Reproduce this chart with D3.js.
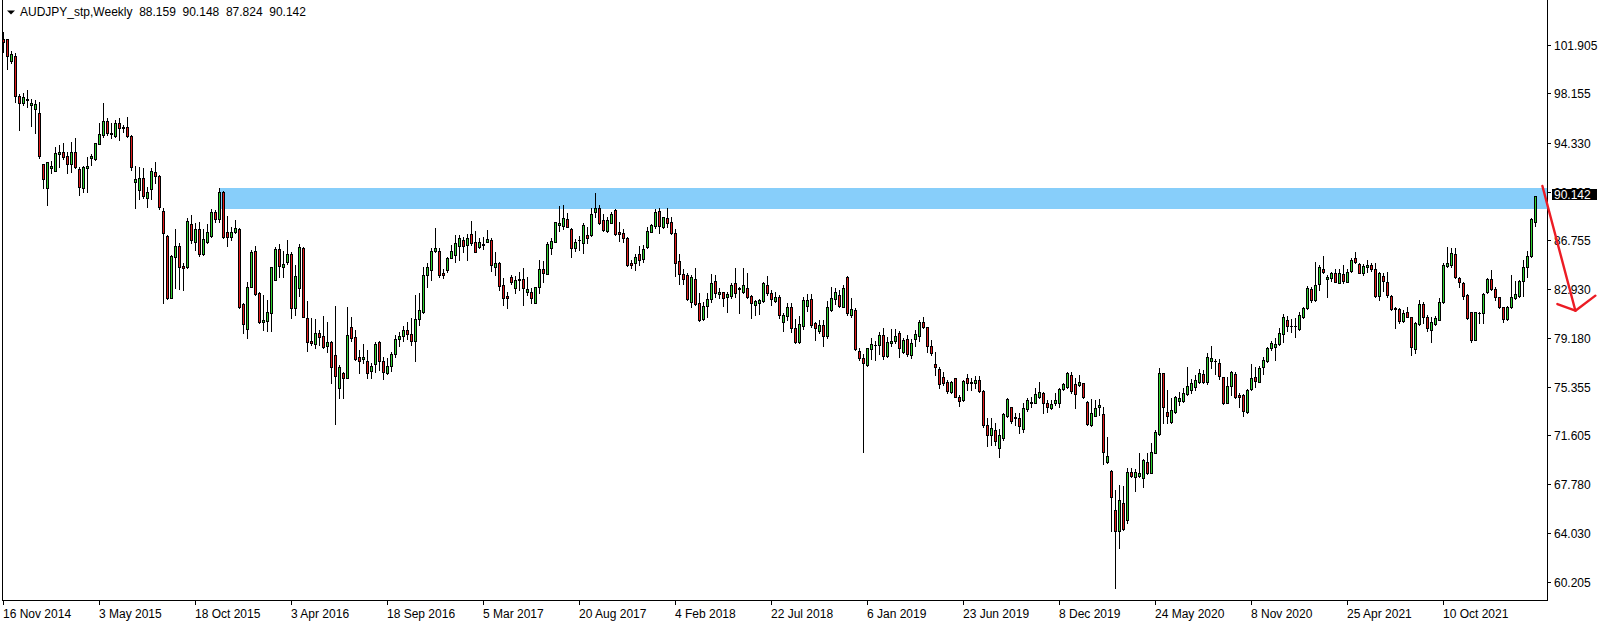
<!DOCTYPE html>
<html><head><meta charset="utf-8">
<script src="https://cdn.jsdelivr.net/npm/d3@7"></script>
<style>
html,body{margin:0;padding:0;background:#fff;}
svg{display:block;}
text{font-family:"Liberation Sans",Arial,sans-serif;font-size:12px;}
</style>
</head><body>
<svg id="chart" width="1604" height="625"></svg>
<script>
const symbolTitle = "AUDJPY_stp,Weekly";
const headerValues = ["88.159", "90.148", "87.824", "90.142"];

const opens = [
102.37,102.37,100.64,101.03,97.92,97.38,97.64,97.22,96.91,96.60,
92.67,90.78,92.33,92.15,93.44,93.57,93.31,92.64,93.57,92.28,
90.78,92.33,93.16,93.03,94.22,94.92,96.00,95.10,94.84,95.82,
95.56,95.56,94.84,91.24,90.65,91.55,90.00,90.70,92.02,91.73,
89.02,87.07,82.29,85.42,86.30,84.75,84.69,88.01,86.64,87.62,
85.65,86.64,87.07,88.91,88.37,90.47,87.36,86.97,87.41,87.59,
81.77,79.83,83.14,85.91,82.62,80.42,80.50,81.12,83.66,86.06,
84.69,85.03,85.68,81.51,83.01,86.12,80.68,78.92,78.69,79.52,
79.31,78.53,78.87,77.83,75.30,76.46,76.07,79.98,79.21,77.65,
77.51,77.39,76.62,77.11,78.82,77.37,76.41,76.98,77.90,79.05,
79.30,79.80,79.50,78.90,80.60,81.20,84.05,84.43,85.93,85.91,
84.18,84.43,85.39,85.60,86.32,86.76,86.38,87.23,86.58,86.19,
86.43,86.63,86.76,84.69,84.95,83.27,82.42,83.92,83.06,83.66,
83.74,82.75,82.70,81.90,83.09,84.49,84.10,86.17,86.58,87.93,
87.85,88.37,87.59,86.17,86.74,86.50,87.15,87.15,88.91,89.22,
88.32,87.49,88.11,89.09,87.36,87.28,86.89,84.95,84.95,85.68,
85.26,86.19,87.41,87.88,89.04,87.80,88.45,88.14,87.28,85.13,
84.12,84.05,81.92,83.73,81.85,80.60,81.66,82.16,83.58,82.57,
82.70,82.31,82.44,83.40,83.01,82.75,83.01,82.41,81.72,81.85,
82.05,83.27,82.62,82.05,82.31,80.37,80.89,81.54,79.91,78.87,
80.11,81.67,82.16,80.29,79.72,80.16,79.34,81.33,82.16,82.49,
81.59,83.92,80.94,81.33,78.15,77.58,77.06,78.27,78.61,78.61,
79.39,77.78,78.79,78.92,79.57,78.09,79.05,77.83,79.05,79.31,
80.37,79.98,78.53,77.14,76.72,76.10,75.76,74.99,76.02,74.55,
74.34,76.02,75.63,75.63,75.89,75.04,72.40,71.62,72.01,70.59,
71.36,73.10,73.77,72.92,72.92,72.06,73.61,74.08,74.13,74.60,
74.91,74.13,73.69,74.08,74.13,75.20,75.32,76.28,75.58,75.50,
75.63,74.21,72.40,73.12,73.82,73.25,69.50,68.83,65.80,64.19,
66.32,65.02,68.72,68.34,68.46,68.26,69.55,68.70,70.25,71.70,
76.41,73.38,72.66,73.43,74.29,74.29,74.78,75.09,75.38,75.76,
76.33,75.76,77.39,77.39,77.19,76.10,74.13,75.45,76.33,74.73,
74.73,73.38,75.17,76.10,75.76,76.88,77.37,78.40,78.48,78.66,
79.46,80.55,80.09,80.09,79.83,80.76,81.46,82.93,82.10,83.32,
84.49,83.71,83.79,84.18,83.45,84.10,83.53,84.38,85.34,84.90,
84.23,84.64,84.82,84.49,82.44,83.97,83.48,82.41,81.46,81.38,
80.47,81.15,80.76,78.27,80.22,81.77,80.81,79.77,80.22,80.55,
81.98,84.75,84.82,85.68,83.79,83.45,82.49,81.15,79.00,81.07,
81.07,82.70,83.71,82.96,82.31,81.54,80.60,81.54,82.23,82.44,
83.58,84.64,85.55,88.159
];
const highs = [
102.94,102.37,101.47,101.26,98.10,98.15,98.41,97.71,97.64,97.51,
92.67,92.80,92.90,94.01,94.14,94.32,93.62,94.40,94.66,92.46,
92.51,93.23,93.42,94.27,95.82,97.38,96.21,95.82,96.08,96.21,
95.69,96.34,94.90,92.51,92.46,92.33,90.90,92.33,92.79,91.81,
89.22,87.15,85.60,87.62,86.50,84.95,88.45,88.70,88.06,88.19,
87.62,88.01,89.14,89.09,90.78,90.59,88.63,87.80,88.32,87.67,
81.85,83.53,85.99,86.26,82.70,82.49,82.10,84.69,86.25,86.43,
85.91,86.76,85.86,84.82,86.43,86.19,82.03,80.68,80.63,79.78,
80.89,80.37,78.92,81.64,77.06,76.54,81.59,80.81,79.78,78.22,
78.69,78.22,77.20,78.82,78.92,77.70,77.63,78.10,79.40,79.60,
80.10,80.40,80.73,82.49,82.62,84.69,84.95,86.12,87.67,86.12,
84.51,85.47,86.38,87.15,87.15,87.02,87.20,88.24,87.46,86.94,
87.02,87.54,86.89,85.86,85.08,83.79,82.75,84.05,83.99,84.30,
84.56,83.92,83.01,83.14,85.21,85.13,86.63,86.89,88.19,89.40,
89.48,88.83,87.67,86.82,87.10,88.06,87.80,89.22,90.39,89.48,
88.78,88.52,88.96,89.15,88.19,87.59,86.97,85.21,85.68,86.32,
86.38,87.80,87.98,89.17,89.22,88.58,89.22,88.52,87.59,85.68,
84.51,84.18,84.05,84.62,82.62,81.98,82.67,84.12,84.05,83.01,
82.75,82.75,83.40,84.56,83.14,84.56,84.18,82.49,82.11,82.18,
83.48,83.99,82.88,82.70,82.49,81.07,81.85,81.85,80.63,80.86,
82.36,82.55,82.55,80.42,80.55,80.55,82.03,83.09,83.06,82.88,
83.27,83.97,82.23,81.51,78.35,77.89,78.40,79.13,78.95,79.65,
79.91,79.26,79.83,79.83,79.70,79.13,79.39,79.05,79.78,80.55,
80.81,80.03,79.00,78.04,76.93,76.54,75.89,75.81,76.07,74.73,
75.89,76.36,76.02,76.23,76.20,75.12,72.97,72.92,72.53,72.06,
73.36,74.47,73.82,73.36,73.30,74.08,74.47,74.60,75.25,75.76,
74.99,74.34,74.34,74.91,75.25,75.69,76.54,76.54,76.02,76.28,
75.69,74.29,74.39,74.34,74.39,73.82,71.49,68.90,67.35,67.74,
67.66,69.03,69.03,68.96,70.20,69.73,70.20,71.03,72.01,76.80,
76.46,75.12,74.47,74.65,74.99,75.25,76.88,75.94,76.28,76.75,
76.67,78.02,78.53,77.50,77.52,76.15,76.15,76.59,76.54,74.86,
74.78,75.17,77.14,76.88,76.98,77.65,78.48,78.92,79.13,79.91,
81.02,80.86,80.60,80.68,81.20,81.59,83.19,83.14,85.08,84.82,
85.52,84.05,84.31,84.49,84.49,84.82,84.49,85.34,85.86,84.95,
84.90,85.21,84.95,84.95,84.31,84.18,84.25,82.49,81.59,81.46,
81.33,81.59,80.81,80.42,82.10,81.98,80.94,80.81,80.86,82.24,
85.00,86.25,86.12,86.12,83.92,83.53,82.55,81.20,81.20,81.20,
82.62,83.79,84.44,83.09,82.36,81.59,81.64,84.05,83.61,83.66,
85.21,85.94,88.45,90.148
];
const lows = [
101.34,100.02,100.48,97.51,95.31,97.22,97.12,95.64,95.05,93.11,
90.78,89.48,91.94,92.15,92.46,93.03,91.94,92.07,92.33,90.26,
90.52,90.52,92.59,92.98,94.22,94.79,94.92,94.66,94.79,94.53,
95.18,94.74,92.20,89.22,89.92,90.00,89.30,89.92,91.16,89.14,
81.90,82.16,82.23,83.01,82.93,82.88,84.56,86.56,85.99,85.52,
85.60,86.56,87.02,88.19,88.19,86.89,86.26,86.76,87.33,81.46,
79.57,79.13,83.09,82.49,80.30,79.78,79.72,79.72,83.66,83.92,
83.92,84.87,80.68,80.94,82.44,80.81,78.14,78.61,78.35,78.61,
78.35,78.09,75.63,72.45,74.52,74.52,76.02,78.92,77.45,76.46,
77.20,76.07,76.07,76.54,76.67,75.97,76.33,76.60,77.70,78.50,
78.90,79.10,78.60,77.40,80.20,81.12,83.14,83.66,85.81,83.92,
83.79,84.30,85.34,85.08,85.21,85.86,85.21,86.38,85.86,86.12,
86.07,86.58,84.36,84.05,82.88,81.72,81.51,83.32,82.62,82.90,
81.72,82.49,81.90,81.85,82.62,83.53,84.10,85.68,86.58,87.49,
87.62,87.80,85.47,85.91,85.99,85.73,86.50,87.10,88.58,88.01,
87.49,87.41,88.06,87.15,86.71,86.63,84.75,84.56,84.43,84.82,
85.08,86.17,87.36,87.67,87.28,87.72,87.80,87.23,83.99,83.32,
83.32,82.11,81.59,81.72,80.47,80.55,80.81,81.98,82.36,82.23,
81.64,81.15,82.23,82.36,81.07,82.62,82.23,80.68,80.94,80.99,
81.98,82.49,81.72,81.98,80.68,79.72,80.55,79.65,78.79,78.79,
79.83,81.28,79.98,79.00,79.52,78.56,79.13,81.28,81.77,81.59,
81.54,80.94,80.76,78.22,77.45,70.33,77.01,77.52,77.45,77.89,
77.50,77.70,78.53,78.74,77.70,77.96,77.78,77.58,78.53,78.95,
79.91,78.09,77.83,76.28,75.30,75.50,74.91,74.91,74.55,73.90,
74.29,75.12,75.12,75.25,74.99,72.22,70.77,70.85,70.85,69.94,
71.23,73.05,72.53,72.40,71.80,71.88,73.51,73.77,74.08,74.47,
73.36,73.43,73.62,73.95,73.82,75.12,75.25,74.86,73.75,75.45,
74.47,72.40,72.35,73.10,73.17,69.35,69.42,64.19,59.77,62.87,
64.25,64.82,68.39,67.27,68.34,67.61,68.57,68.65,70.20,71.62,
72.53,72.53,72.55,73.31,73.95,74.21,74.73,74.91,75.12,75.69,
75.63,75.56,76.80,76.36,75.94,74.00,74.08,74.73,74.52,73.82,
73.12,73.31,75.12,75.38,75.71,76.36,77.32,78.22,77.45,78.61,
78.87,79.72,79.65,79.21,79.78,80.68,81.40,81.98,82.05,82.88,
84.18,82.31,83.61,83.48,83.40,83.45,83.48,84.31,85.00,84.18,
84.05,84.31,84.38,82.36,82.10,82.83,82.31,81.33,79.91,80.29,
80.42,80.76,77.83,78.01,80.16,80.29,79.72,78.87,80.16,80.55,
81.90,84.64,84.69,83.79,83.14,82.16,80.60,78.87,79.00,80.29,
80.29,82.62,82.88,82.10,81.51,80.42,80.55,81.46,82.16,82.36,
82.42,83.92,85.47,87.824
];
const closes = [
102.16,101.08,101.21,97.97,97.38,97.89,97.74,97.38,97.30,93.31,
91.48,92.80,92.54,93.49,93.57,93.23,92.64,93.57,92.46,90.85,
92.46,92.51,93.29,94.27,94.97,96.03,95.10,94.97,95.82,95.49,
95.44,94.84,92.41,91.47,91.55,90.21,90.47,92.15,91.76,89.30,
87.28,82.29,85.52,86.32,84.69,84.56,88.24,86.76,87.62,85.65,
86.82,87.36,88.91,88.37,90.47,86.97,86.97,87.36,87.72,81.54,
80.24,83.14,85.81,82.54,80.42,80.55,81.20,84.64,86.06,84.77,
84.87,85.65,81.51,83.97,86.19,80.81,78.87,78.74,79.52,79.21,
78.43,78.87,76.93,76.20,76.88,76.02,79.39,79.13,77.51,77.39,
77.65,76.41,76.98,78.69,77.39,76.54,76.98,77.90,79.05,79.30,
79.80,79.50,78.90,80.60,81.33,84.05,84.69,85.91,86.12,84.05,
84.05,85.34,85.91,86.51,86.89,86.32,86.89,86.51,85.86,86.58,
86.40,86.81,84.82,84.95,83.22,82.23,82.23,83.53,83.66,83.74,
83.01,82.96,82.23,83.09,84.49,84.23,86.43,86.69,88.14,88.06,
88.45,87.80,86.17,86.58,86.76,87.93,86.89,88.78,89.22,88.11,
87.54,88.32,88.78,87.23,87.23,86.95,84.82,84.82,85.42,85.21,
86.06,87.46,87.93,88.96,87.88,88.52,88.11,87.28,84.95,84.10,
83.73,82.18,83.92,81.77,80.55,81.64,82.16,83.40,82.62,82.70,
82.23,82.57,83.27,82.62,82.96,83.27,82.36,81.85,82.03,82.11,
83.40,82.67,82.16,82.31,80.94,80.94,81.54,79.91,78.87,80.22,
82.10,82.10,80.16,79.91,80.16,79.34,81.54,82.23,82.70,81.67,
83.01,81.12,81.38,78.27,77.63,77.24,78.35,78.66,78.59,79.39,
77.78,78.82,78.92,79.31,78.35,79.00,77.89,78.74,79.47,80.42,
80.03,78.56,78.01,76.93,75.56,75.69,75.06,75.76,74.60,74.29,
75.81,75.69,75.76,75.89,75.06,72.40,71.62,72.14,71.18,71.62,
73.25,74.39,72.73,73.05,72.32,73.69,74.34,74.21,74.78,74.99,
74.13,73.77,74.03,74.34,75.20,75.58,76.41,75.06,74.81,75.71,
74.60,72.45,73.30,73.69,73.95,70.33,69.99,66.78,64.19,66.57,
64.32,68.72,68.44,68.72,68.65,69.68,68.65,70.33,71.88,76.41,
73.77,73.10,73.56,74.55,74.52,74.86,75.43,75.63,75.89,76.41,
75.76,77.65,77.58,77.37,76.23,74.13,75.45,76.49,74.60,74.55,
73.51,75.12,76.02,75.84,76.80,77.45,78.35,78.79,78.69,79.57,
80.76,80.09,80.06,80.06,80.94,81.46,83.01,82.10,83.27,84.64,
84.31,83.86,84.18,83.53,84.18,83.61,84.31,85.21,85.08,84.23,
84.75,84.82,84.51,82.44,84.18,83.61,82.49,81.41,81.43,80.47,
81.07,80.81,78.43,80.35,81.77,80.81,79.91,80.42,80.73,81.98,
84.82,84.95,85.78,83.92,83.53,82.42,80.68,79.00,81.15,81.12,
82.55,83.71,82.93,82.31,81.59,80.60,81.59,82.36,82.57,83.58,
84.64,85.55,88.40,90.142
];

const priceTicks = [101.905, 98.155, 94.330, 90.505, 86.755, 82.930, 79.180, 75.355, 71.605, 67.780, 64.030, 60.205];
const priceTickLabels = ["101.905","98.155","94.330","90.505","86.755","82.930","79.180","75.355","71.605","67.780","64.030","60.205"];
const dateTickIndex = [0, 24, 48, 72, 96, 120, 144, 168, 192, 216, 240, 264, 288, 312, 336, 360];
const dateTickLabels = ["16 Nov 2014","3 May 2015","18 Oct 2015","3 Apr 2016","18 Sep 2016","5 Mar 2017","20 Aug 2017","4 Feb 2018","22 Jul 2018","6 Jan 2019","23 Jun 2019","8 Dec 2019","24 May 2020","8 Nov 2020","25 Apr 2021","10 Oct 2021"];

// resistance zone (price band) starting at candle index
const zoneStartIndex = 54;
const zonePrices = [90.80, 89.17];
// hand-drawn arrow annotation in (candle index, price)
const arrowShaftIdx = [384.85, 393.1];
const arrowShaftPrice = [90.96, 81.27];
const arrowHeadIdx = [388.6, 393.1, 398.1];
const arrowHeadPrice = [81.79, 81.27, 82.44];

const plotLeft = 2, plotRight = 1547, plotBottom = 600;
const svg = d3.select("#chart");

const x = d3.scaleLinear().domain([0, 383]).range([3, 1535]);
const y = d3.scaleLinear().domain([60.205, 101.905]).range([582, 45]);

const BULL = "#2fd12f", BEAR = "#e01b1b";

// zone
svg.append("rect")
  .attr("x", Math.round(x(zoneStartIndex)))
  .attr("y", Math.round(y(zonePrices[0])))
  .attr("width", plotRight - Math.round(x(zoneStartIndex)))
  .attr("height", Math.round(y(zonePrices[1])) - Math.round(y(zonePrices[0])))
  .attr("fill", "#87cefa");

// candles
const g = svg.append("g").attr("shape-rendering", "crispEdges");
d3.range(opens.length).forEach(i => {
  const o = opens[i], h = highs[i], l = lows[i], c = closes[i];
  const cx = Math.round(x(i));
  const yh = Math.round(y(h)), yl = Math.round(y(l));
  g.append("rect").attr("x", cx).attr("y", yh).attr("width", 1).attr("height", yl - yh + 1).attr("fill", "#000");
  const bt = Math.round(y(Math.max(o, c))), bb = Math.round(y(Math.min(o, c)));
  g.append("rect").attr("x", cx - 1).attr("y", bt).attr("width", 3).attr("height", bb - bt + 1).attr("fill", "#000");
  if (bb - bt + 1 > 2) {
    g.append("rect").attr("x", cx).attr("y", bt + 1).attr("width", 1).attr("height", bb - bt - 1)
      .attr("fill", c >= o ? BULL : BEAR);
  }
});

// frame
const fr = svg.append("g").attr("shape-rendering", "crispEdges");
fr.append("rect").attr("x", plotLeft).attr("y", 0).attr("width", 1).attr("height", plotBottom + 1).attr("fill", "#000");
fr.append("rect").attr("x", plotRight).attr("y", 0).attr("width", 1).attr("height", plotBottom + 1).attr("fill", "#000");
fr.append("rect").attr("x", plotLeft).attr("y", plotBottom).attr("width", plotRight - plotLeft + 1).attr("height", 1).attr("fill", "#000");

// price axis
priceTicks.forEach((p, k) => {
  const yy = Math.round(y(p));
  fr.append("rect").attr("x", plotRight).attr("y", yy).attr("width", 4).attr("height", 1).attr("fill", "#000");
  svg.append("text").attr("x", 1554).attr("y", yy + 4.5).attr("fill", "#000").text(priceTickLabels[k]);
});

// date axis
dateTickIndex.forEach((di, k) => {
  const xx = Math.round(x(di));
  fr.append("rect").attr("x", xx).attr("y", plotBottom).attr("width", 1).attr("height", 5).attr("fill", "#000");
  svg.append("text").attr("x", xx).attr("y", 617.5).attr("fill", "#000").text(dateTickLabels[k]);
});

// current price label
const lastClose = closes[closes.length - 1];
const yc = Math.round(y(lastClose));
svg.append("rect").attr("x", 1552).attr("y", yc - 7).attr("width", 45).attr("height", 11).attr("fill", "#000").attr("shape-rendering", "crispEdges");
svg.append("text").attr("x", 1554).attr("y", yc + 3).attr("fill", "#fff").text(headerValues[3]);

// header
svg.append("path").attr("d", "M7,10.5 L15,10.5 L11,14.5 Z").attr("fill", "#000");
svg.append("text").attr("x", 20).attr("y", 16).attr("fill", "#000").style("white-space", "pre")
  .text(symbolTitle + "  " + headerValues.join("  "));

// arrow
const line = d3.line().x(d => x(d[0])).y(d => y(d[1]));
svg.append("path").attr("d", line(d3.zip(arrowShaftIdx, arrowShaftPrice)))
  .attr("fill", "none").attr("stroke", "#ec1c24").attr("stroke-width", 2.4).attr("stroke-linecap", "round");
svg.append("path").attr("d", line(d3.zip(arrowHeadIdx, arrowHeadPrice)))
  .attr("fill", "none").attr("stroke", "#ec1c24").attr("stroke-width", 2.4).attr("stroke-linecap", "round").attr("stroke-linejoin", "round");
</script>
</body></html>
